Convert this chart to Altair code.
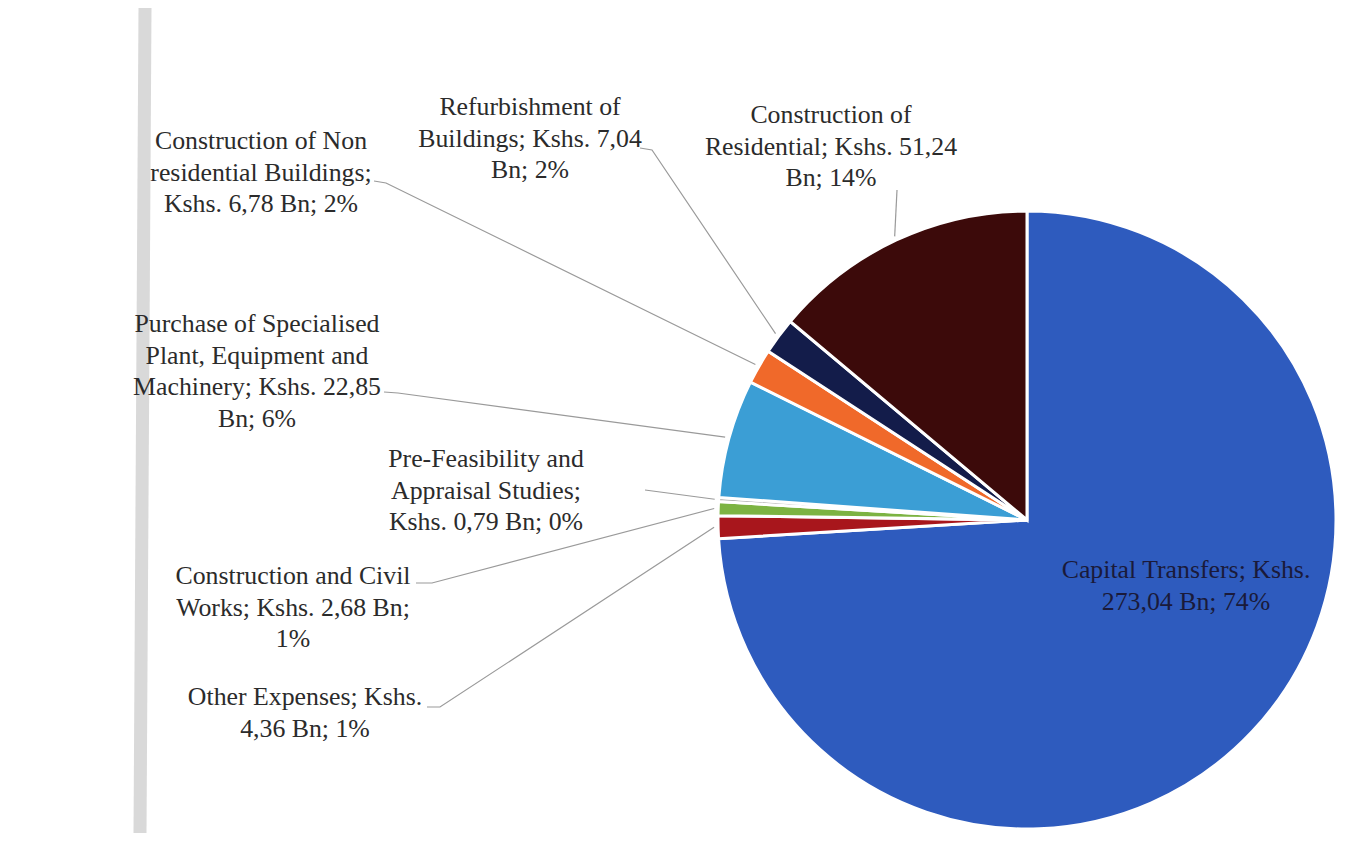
import math
import altair as alt
import pandas as pd

# ---------------- data ----------------
categories = [
    "Capital Transfers",
    "Other Expenses",
    "Construction and Civil Works",
    "Pre-Feasibility and Appraisal Studies",
    "Purchase of Specialised Plant, Equipment and Machinery",
    "Construction of Non residential Buildings",
    "Refurbishment of Buildings",
    "Construction of Residential",
]
values_bn = [273.04, 4.36, 2.68, 0.79, 22.85, 6.78, 7.04, 51.24]
label_lines = [
    ["Capital Transfers; Kshs.", "273,04 Bn; 74%"],
    ["Other Expenses; Kshs.", "4,36 Bn; 1%"],
    ["Construction and Civil", "Works; Kshs. 2,68 Bn;", "1%"],
    ["Pre-Feasibility and", "Appraisal Studies;", "Kshs. 0,79 Bn; 0%"],
    ["Purchase of Specialised", "Plant, Equipment and", "Machinery; Kshs. 22,85", "Bn; 6%"],
    ["Construction of Non", "residential Buildings;", "Kshs. 6,78 Bn; 2%"],
    ["Refurbishment of", "Buildings; Kshs. 7,04", "Bn; 2%"],
    ["Construction of", "Residential; Kshs. 51,24", "Bn; 14%"],
]
colors = ["#2E5BBE", "#A8161C", "#7CB342", "#A5A5A5", "#3B9ED5", "#F0692A", "#131C4A", "#3C0A0A"]

# ---------------- layout (page pixels) ----------------
W, H = 1332, 825
CX, CY, R = 1027, 520, 309
# label anchor: centre x, first-line baseline y
label_pos = [(1186, 578), (305, 705), (293, 584), (486, 467), (257, 332), (261, 149), (530, 115), (831, 123)]
# leader start points (label side), None for the inside label
leader_pts = [
    None,
    [(427, 707), (440, 707)],
    [(416, 583), (432, 583)],
    [(645, 490)],
    [(384, 392), (398, 393)],
    [(374, 181), (386, 183)],
    [(640, 148), (652, 150)],
    [(897, 190)],
]

pie_df = pd.DataFrame({"category": categories, "value": values_bn, "idx": list(range(len(categories)))})

total = sum(values_bn)
cum = 0.0
mids = []
for v in values_bn:
    mids.append((cum + v / 2) / total * 2 * math.pi)
    cum += v

lead_rows = []
for i, pts in enumerate(leader_pts):
    if pts is None:
        continue
    for s, (px, py) in enumerate(pts):
        lead_rows.append({"cat": categories[i], "seq": s, "x": px, "y": py})
    a = mids[i]
    lead_rows.append({"cat": categories[i], "seq": len(pts),
                      "x": CX + (R + 4) * math.sin(a), "y": CY - (R + 4) * math.cos(a)})
lead_df = pd.DataFrame(lead_rows)

text_df = pd.DataFrame({
    "cat": categories,
    "x": [p[0] for p in label_pos],
    "y": [p[1] for p in label_pos],
    "text": ["\n".join(l) for l in label_lines],
    "inside": [i == 0 for i in range(len(categories))],
})

xs = alt.Scale(domain=[8, 8 + W], range=[0, W], nice=False, zero=False)
ys = alt.Scale(domain=[8, 8 + H], reverse=True, nice=False, zero=False)

bar_df = pd.DataFrame({"x": [145, 140], "y": [8, 833], "k": [0, 1]})
bar = alt.Chart(bar_df).mark_line(color="#d9d9d9", strokeWidth=13).encode(
    x=alt.X("x:Q", scale=xs, axis=None),
    y=alt.Y("y:Q", scale=ys, axis=None),
    order="k:Q",
)

pie = alt.Chart(pie_df).mark_arc(stroke="white", strokeWidth=3).encode(
    theta=alt.Theta("value:Q", stack=True),
    order=alt.Order("idx:Q"),
    color=alt.Color("category:N", scale=alt.Scale(domain=categories, range=colors), legend=None),
    x=alt.value(CX - 8),
    y=alt.value(CY - 8),
    radius=alt.value(R),
)

leaders = alt.Chart(lead_df).mark_line(color="#9a9a9a", strokeWidth=1.2).encode(
    x=alt.X("x:Q", scale=xs, axis=None),
    y=alt.Y("y:Q", scale=ys, axis=None),
    detail="cat:N",
    order="seq:Q",
)

labels = alt.Chart(text_df).mark_text(
    font="Liberation Serif", fontSize=25.8, lineBreak="\n", lineHeight=31.5,
    align="center", baseline="alphabetic",
).encode(
    x=alt.X("x:Q", scale=xs, axis=None),
    y=alt.Y("y:Q", scale=ys, axis=None),
    text="text:N",
    color=alt.condition("datum.inside", alt.value("#1a1a3a"), alt.value("#2b2b2b")),
)

chart = alt.layer(bar, pie, leaders, labels).properties(
    width=W, height=H, autosize=alt.AutoSizeParams(type="none"), padding=0,
    background="white",
).configure_view(stroke=None)

chart.save("out.html", embed_options={"renderer": "svg", "actions": False})
